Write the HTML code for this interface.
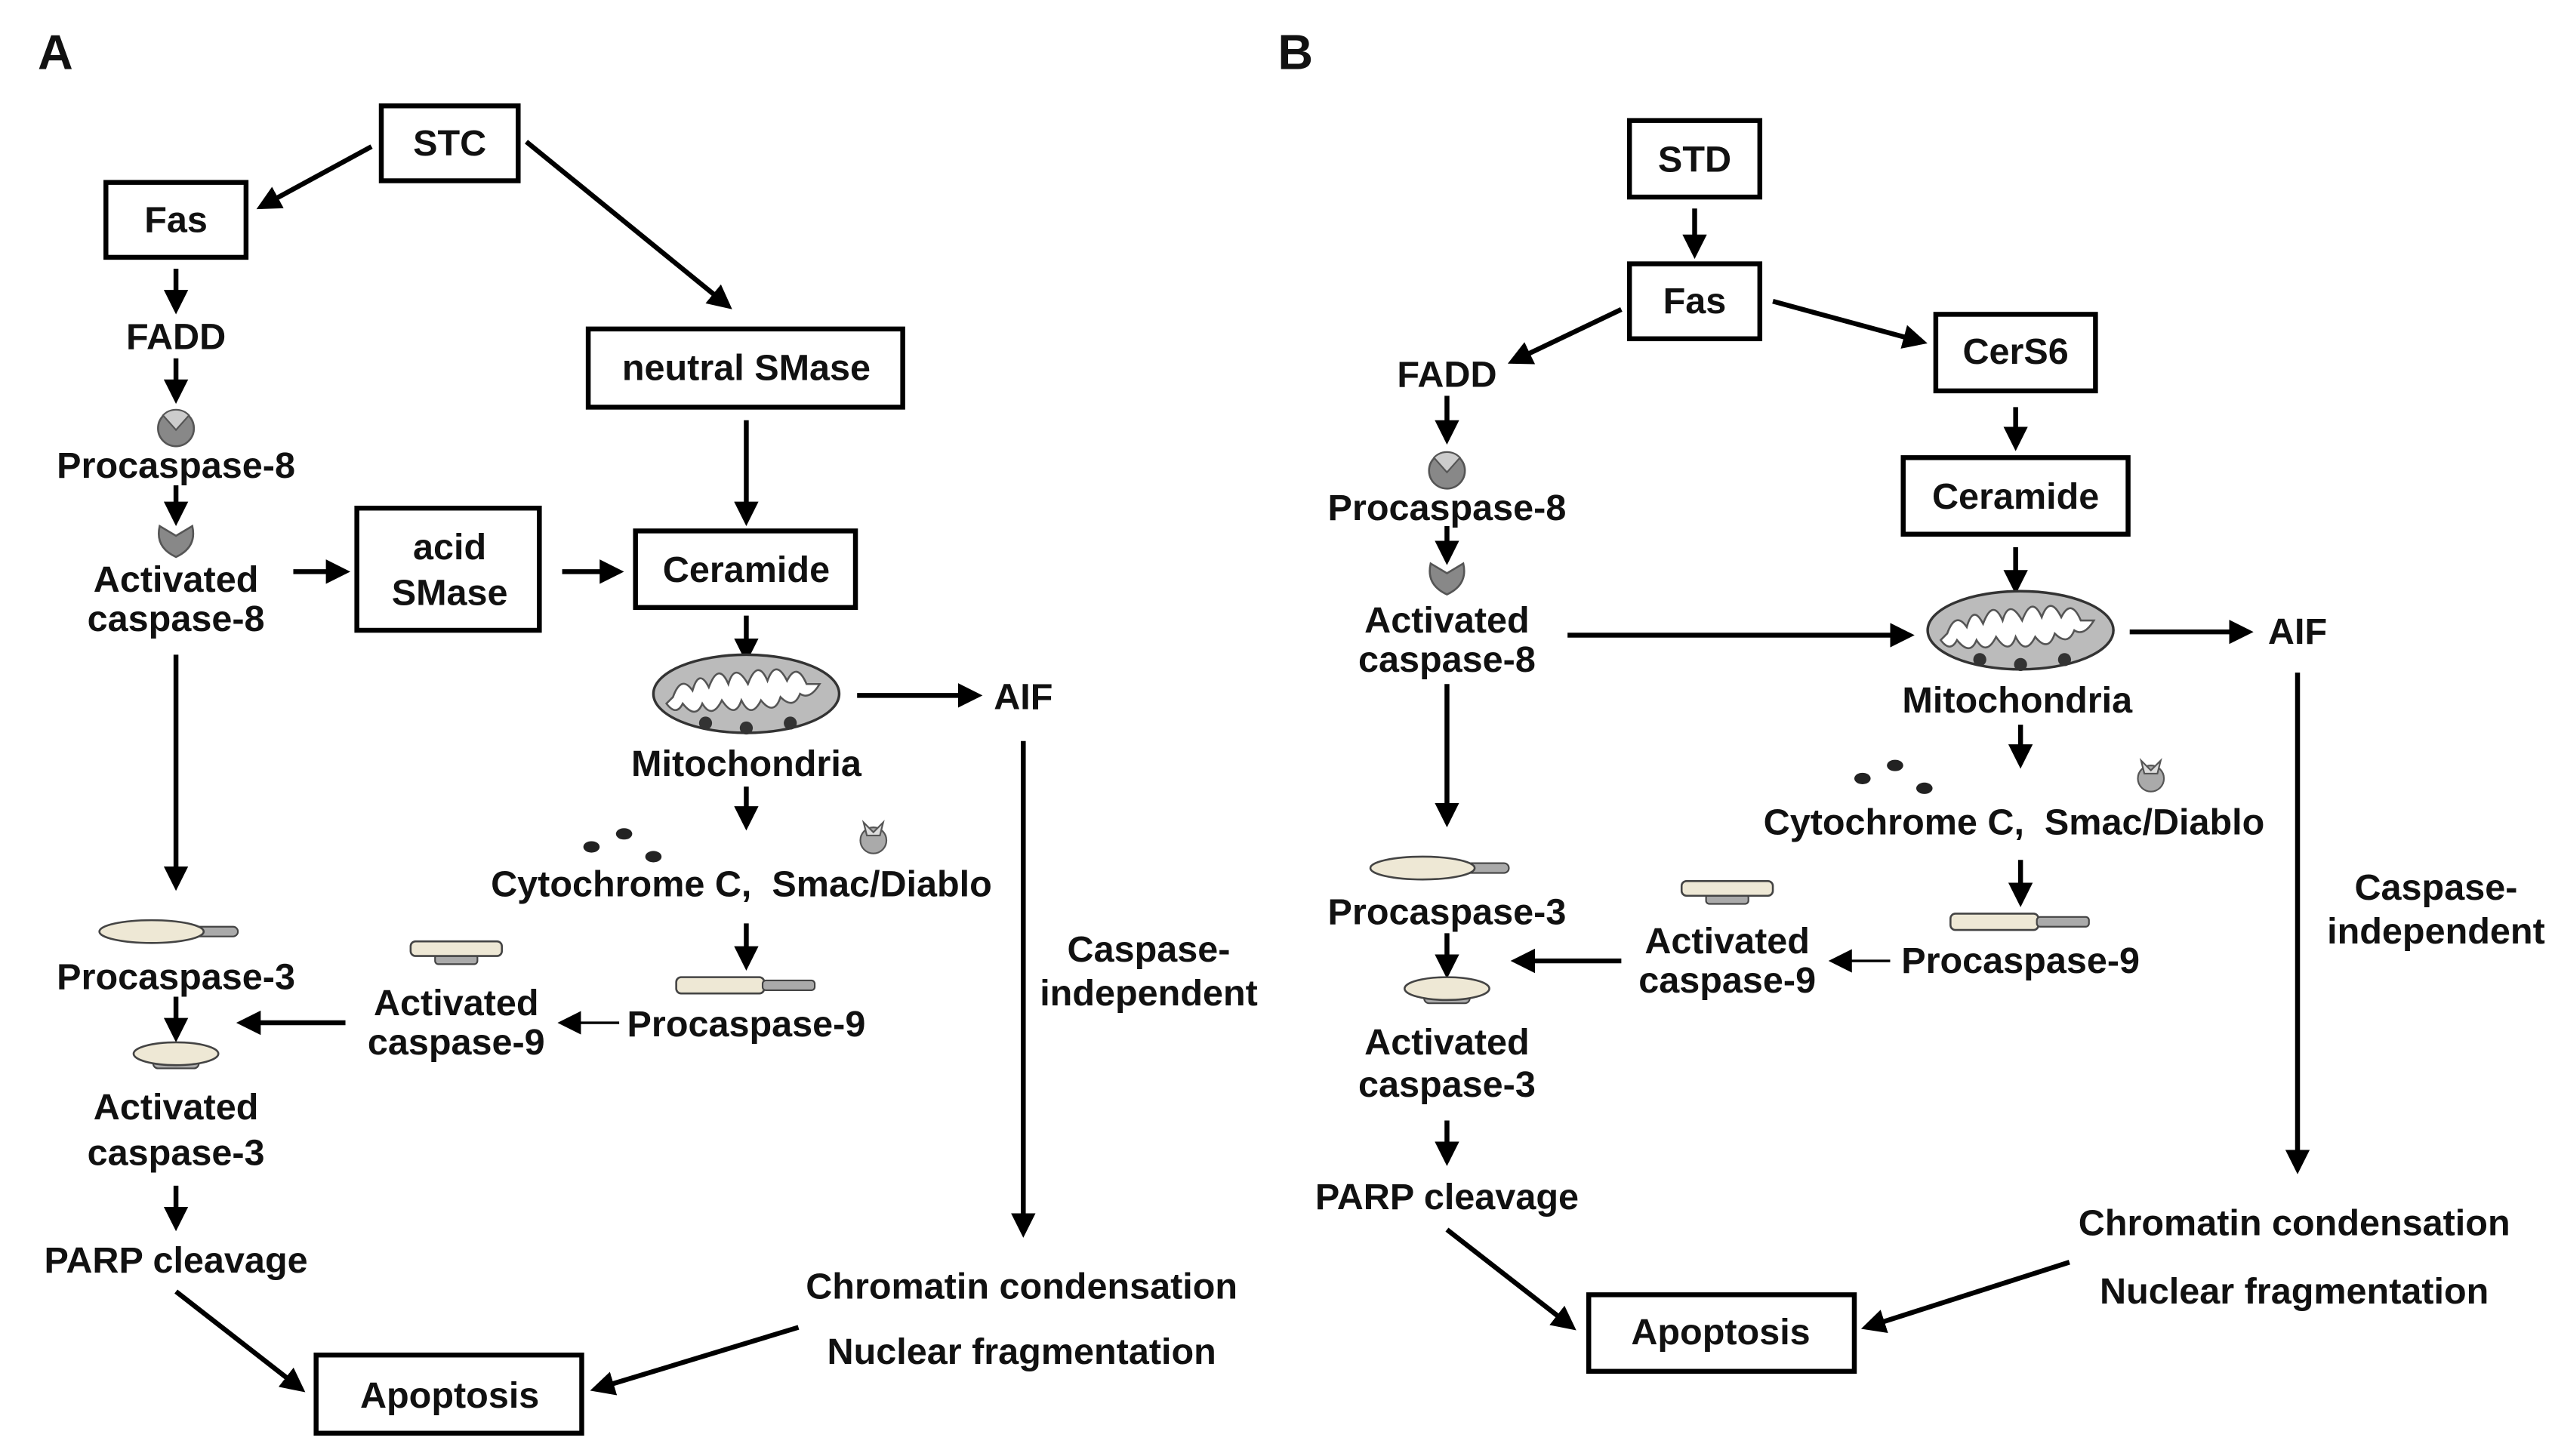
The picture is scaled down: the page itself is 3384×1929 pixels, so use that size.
<!DOCTYPE html>
<html><head><meta charset="utf-8"><style>
html,body{margin:0;padding:0;background:#fff;}
svg{display:block;}
text{font-family:"Liberation Sans",Arial,sans-serif;font-size:22.5px;font-weight:bold;fill:#111;text-anchor:middle;dominant-baseline:central;}
.box{fill:#fff;stroke:#000;stroke-width:3;}
.a{stroke:#000;stroke-width:3;fill:none;marker-end:url(#h);}
.t{stroke:#000;stroke-width:1.6;fill:none;marker-end:url(#hs);}
</style></head><body>
<svg width="3384" height="1929" viewBox="0 0 1568 894" preserveAspectRatio="none" xmlns="http://www.w3.org/2000/svg">
<defs>
<marker id="h" viewBox="0 0 10 10" refX="8" refY="5" markerWidth="5" markerHeight="5" orient="auto" markerUnits="strokeWidth"><path d="M0,0 L10,5 L0,10 z" fill="#000"/></marker>
<marker id="hs" viewBox="0 0 10 10" refX="8" refY="5" markerWidth="9" markerHeight="9" orient="auto" markerUnits="strokeWidth"><path d="M0,0 L10,5 L0,10 z" fill="#000"/></marker>
<g id="p8"><circle cx="0" cy="0" r="11" fill="#888" stroke="#555" stroke-width="1.2"/><path d="M-8,-8 L0,1 L8,-8 A11,11 0 0 0 -8,-8z" fill="#ccc" stroke="#555" stroke-width="1"/></g>
<g id="c8"><path d="M-10,-9 L0,-3 L10,-9 Q13,4 0,10 Q-13,4 -10,-9z" fill="#888" stroke="#555" stroke-width="1.2"/></g>
<g id="mito"><ellipse cx="0" cy="0" rx="57" ry="24" fill="#bbb" stroke="#333" stroke-width="1.6"/>
<path d="M-45,2 q5,-14 12,-4 q4,-14 10,-2 q6,-16 12,-2 q4,-14 12,0 q6,-16 12,-2 q5,-14 12,0 q6,-12 12,2 l8,0 q-6,10 -12,6 q-4,10 -12,2 q-4,12 -12,2 q-6,12 -12,0 q-4,12 -12,0 q-6,12 -12,2 q-4,10 -12,0 q-4,8 -10,0z" fill="#fff" stroke="#555" stroke-width="1.2"/>
<circle cx="-25" cy="18" r="4" fill="#333"/><circle cx="0" cy="21" r="4" fill="#333"/><circle cx="27" cy="18" r="4" fill="#333"/></g>
<g id="p3"><rect x="20" y="-3" width="28" height="6" rx="3" fill="#aaa" stroke="#444" stroke-width="1"/><ellipse cx="-5" cy="0" rx="32" ry="7" fill="#eee8d5" stroke="#444" stroke-width="1.2"/></g>
<g id="c3"><rect x="-14" y="2" width="28" height="7" rx="3" fill="#aaa" stroke="#444" stroke-width="1"/><ellipse cx="0" cy="0" rx="26" ry="7" fill="#eee8d5" stroke="#444" stroke-width="1.2"/></g>
<g id="p9"><rect x="-43" y="-5" width="54" height="10" rx="3" fill="#eee8d5" stroke="#444" stroke-width="1.2"/><rect x="10" y="-3" width="32" height="6" rx="2" fill="#aaa" stroke="#444" stroke-width="1"/></g>
<g id="c9"><rect x="-13" y="3" width="26" height="6" rx="2" fill="#aaa" stroke="#444" stroke-width="1"/><rect x="-28" y="-5" width="56" height="9" rx="3" fill="#eee8d5" stroke="#444" stroke-width="1.2"/></g>
<g id="smac"><circle cx="0" cy="3" r="8" fill="#aaa" stroke="#555" stroke-width="1"/><path d="M-6,-8 L0,-2 L6,-8 L4,0 L-4,0z" fill="#ddd" stroke="#555" stroke-width="1"/></g>
<g id="cyt"><ellipse cx="0" cy="8" rx="5" ry="3.5" fill="#222"/><ellipse cx="20" cy="0" rx="5" ry="3.5" fill="#222"/><ellipse cx="38" cy="14" rx="5" ry="3.5" fill="#222"/></g>
</defs>

<text x="34" y="32" style="font-size:30px">A</text>
<text x="795" y="32" style="font-size:30px">B</text>

<!-- Panel A -->
<rect class="box" x="234" y="65" width="84" height="46"/><text x="276" y="88">STC</text>
<rect class="box" x="65" y="112" width="86" height="46"/><text x="108" y="135">Fas</text>
<rect class="box" x="361" y="202" width="193" height="48"/><text x="458" y="226">neutral SMase</text>
<rect class="box" x="219" y="312" width="112" height="75"/><text x="276" y="336">acid</text><text x="276" y="364">SMase</text>
<rect class="box" x="390" y="326" width="135" height="47"/><text x="458" y="350">Ceramide</text>
<rect class="box" x="194" y="832" width="163" height="48"/><text x="276" y="857">Apoptosis</text>

<line class="a" x1="228" y1="90" x2="160" y2="127"/>
<line class="a" x1="323" y1="87" x2="447" y2="188"/>
<line class="a" x1="108" y1="165" x2="108" y2="190"/>
<text x="108" y="207">FADD</text>
<line class="a" x1="108" y1="220" x2="108" y2="245"/>
<use href="#p8" x="108" y="263"/>
<text x="108" y="286">Procaspase-8</text>
<line class="a" x1="108" y1="298" x2="108" y2="320"/>
<use href="#c8" x="108" y="332"/>
<text x="108" y="356">Activated</text><text x="108" y="380">caspase-8</text>
<line class="a" x1="180" y1="351" x2="212" y2="351"/>
<line class="a" x1="345" y1="351" x2="380" y2="351"/>
<line class="a" x1="458" y1="258" x2="458" y2="320"/>
<line class="a" x1="458" y1="378" x2="458" y2="404"/>
<use href="#mito" x="458" y="426"/>
<text x="458" y="469">Mitochondria</text>
<line class="a" x1="526" y1="427" x2="600" y2="427"/>
<text x="628" y="428">AIF</text>
<line class="a" x1="628" y1="455" x2="628" y2="757"/>
<text x="705" y="583">Caspase-</text><text x="705" y="610">independent</text>
<line class="a" x1="458" y1="483" x2="458" y2="507"/>
<use href="#cyt" x="363" y="512"/>
<use href="#smac" x="536" y="513"/>
<text x="455" y="543">Cytochrome C,&#160; Smac/Diablo</text>
<line class="a" x1="458" y1="567" x2="458" y2="593"/>
<use href="#p9" x="458" y="605"/>
<text x="458" y="629">Procaspase-9</text>
<line class="t" x1="380" y1="628" x2="345" y2="628"/>
<use href="#c9" x="280" y="583"/>
<text x="280" y="616">Activated</text><text x="280" y="640">caspase-9</text>
<line class="a" x1="212" y1="628" x2="148" y2="628"/>
<line class="a" x1="108" y1="402" x2="108" y2="544"/>
<use href="#p3" x="98" y="572"/>
<text x="108" y="600">Procaspase-3</text>
<line class="a" x1="108" y1="612" x2="108" y2="637"/>
<use href="#c3" x="108" y="647"/>
<text x="108" y="680">Activated</text><text x="108" y="708">caspase-3</text>
<line class="a" x1="108" y1="728" x2="108" y2="753"/>
<text x="108" y="774">PARP cleavage</text>
<line class="a" x1="108" y1="793" x2="185" y2="853"/>
<text x="627" y="790">Chromatin condensation</text>
<text x="627" y="830">Nuclear fragmentation</text>
<line class="a" x1="490" y1="815" x2="365" y2="853"/>

<!-- Panel B -->
<rect class="box" x="1000" y="74" width="80" height="47"/><text x="1040" y="98">STD</text>
<line class="a" x1="1040" y1="128" x2="1040" y2="156"/>
<rect class="box" x="1000" y="162" width="80" height="46"/><text x="1040" y="185">Fas</text>
<line class="a" x1="995" y1="190" x2="928" y2="222"/>
<text x="888" y="230">FADD</text>
<line class="a" x1="1088" y1="185" x2="1180" y2="210"/>
<rect class="box" x="1188" y="193" width="98" height="47"/><text x="1237" y="216">CerS6</text>
<line class="a" x1="1237" y1="250" x2="1237" y2="274"/>
<rect class="box" x="1168" y="281" width="138" height="47"/><text x="1237" y="305">Ceramide</text>
<line class="a" x1="1237" y1="336" x2="1237" y2="362"/>
<use href="#mito" x="1240" y="387"/>
<text x="1238" y="430">Mitochondria</text>
<line class="a" x1="962" y1="390" x2="1172" y2="390"/>
<line class="a" x1="1307" y1="388" x2="1380" y2="388"/>
<text x="1410" y="388">AIF</text>
<line class="a" x1="1410" y1="413" x2="1410" y2="718"/>
<text x="1495" y="545">Caspase-</text><text x="1495" y="572">independent</text>
<line class="a" x1="888" y1="243" x2="888" y2="270"/>
<use href="#p8" x="888" y="289"/>
<text x="888" y="312">Procaspase-8</text>
<line class="a" x1="888" y1="323" x2="888" y2="344"/>
<use href="#c8" x="888" y="355"/>
<text x="888" y="381">Activated</text><text x="888" y="405">caspase-8</text>
<line class="a" x1="888" y1="420" x2="888" y2="505"/>
<use href="#p3" x="878" y="533"/>
<text x="888" y="560">Procaspase-3</text>
<line class="a" x1="888" y1="573" x2="888" y2="598"/>
<use href="#c3" x="888" y="607"/>
<text x="888" y="640">Activated</text><text x="888" y="666">caspase-3</text>
<line class="a" x1="888" y1="688" x2="888" y2="713"/>
<text x="888" y="735">PARP cleavage</text>
<line class="a" x1="888" y1="755" x2="965" y2="815"/>
<rect class="box" x="975" y="795" width="163" height="47"/><text x="1056" y="818">Apoptosis</text>
<line class="a" x1="1240" y1="445" x2="1240" y2="469"/>
<use href="#cyt" x="1143" y="470"/>
<use href="#smac" x="1320" y="475"/>
<text x="1236" y="505">Cytochrome C,&#160; Smac/Diablo</text>
<line class="a" x1="1240" y1="528" x2="1240" y2="554"/>
<use href="#p9" x="1240" y="566"/>
<text x="1240" y="590">Procaspase-9</text>
<line class="t" x1="1160" y1="590" x2="1125" y2="590"/>
<use href="#c9" x="1060" y="546"/>
<text x="1060" y="578">Activated</text><text x="1060" y="602">caspase-9</text>
<line class="a" x1="995" y1="590" x2="930" y2="590"/>
<text x="1408" y="751">Chromatin condensation</text>
<text x="1408" y="793">Nuclear fragmentation</text>
<line class="a" x1="1270" y1="775" x2="1145" y2="815"/>
</svg>
</body></html>
